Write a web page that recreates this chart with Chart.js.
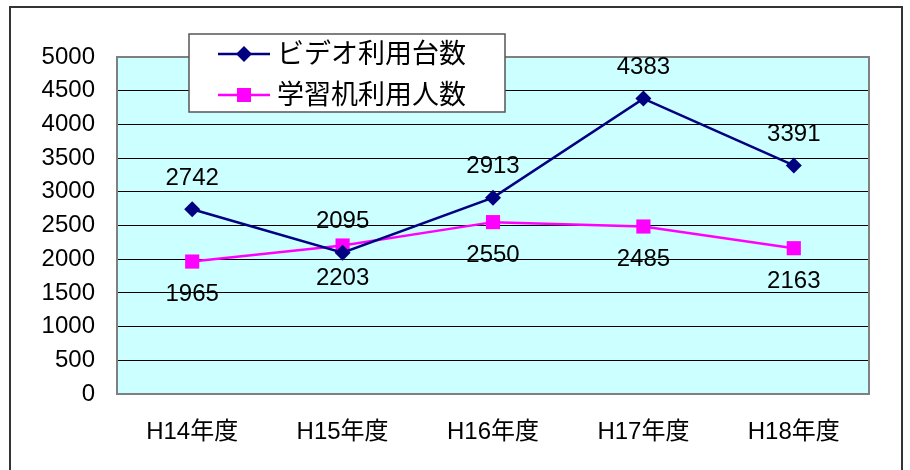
<!DOCTYPE html>
<html>
<head>
<meta charset="utf-8">
<script src="https://cdn.jsdelivr.net/npm/chart.js@4"></script>
<style>
    html, body { margin: 0; padding: 0; background: #ffffff; }
    #wrap { width: 910px; height: 470px; }
</style>
</head>
<body>
<div id="wrap"><canvas id="chart" width="910" height="470"></canvas></div>
<script>
const years = ["H14年度", "H15年度", "H16年度", "H17年度", "H18年度"];
const videoCounts = [2742, 2095, 2913, 4383, 3391];
const learnerCounts = [1965, 2203, 2550, 2485, 2163];
const seriesNames = ["ビデオ利用台数", "学習机利用人数"];

const FONT = "'Liberation Sans', 'Noto Sans CJK JP', sans-serif";

// background, plot frame, outer border, legend box, value labels
const decor = {
    id: "decor",
    beforeDraw(chart) {
        const c = chart.ctx, a = chart.chartArea;
        c.save();
        c.fillStyle = "#ffffff";
        c.fillRect(0, 0, chart.width, chart.height);
        c.fillStyle = "#ccffff";
        c.fillRect(a.left, a.top, a.right - a.left, a.bottom - a.top);
        c.strokeStyle = "#333333";
        c.lineWidth = 2;
        c.strokeRect(10, 7, 892, 480);
        c.restore();
    },
    afterDatasetsDraw(chart) {
        const c = chart.ctx, a = chart.chartArea;
        c.save();
        c.strokeStyle = "#808080";
        c.lineWidth = 2;
        c.strokeRect(a.left, a.top, a.right - a.left, a.bottom - a.top);

        // value labels: first series above, second below
        c.fillStyle = "#000000";
        c.font = "24px " + FONT;
        c.textAlign = "center";
        c.textBaseline = "middle";
        chart.data.datasets.forEach((ds, i) => {
            const meta = chart.getDatasetMeta(i);
            meta.data.forEach((pt, j) => {
                const dy = i === 0 ? -31 : 33;
                c.fillText(String(ds.data[j]), pt.x, pt.y + dy);
            });
        });

        // legend box
        const lx = 189, ly = 34, lw = 316, lh = 78;
        c.fillStyle = "#ffffff";
        c.fillRect(lx, ly, lw, lh);
        c.strokeStyle = "#555555";
        c.lineWidth = 1.5;
        c.strokeRect(lx, ly, lw, lh);
        chart.data.datasets.forEach((ds, i) => {
            const y = 54 + i * 41;
            c.strokeStyle = ds.borderColor;
            c.lineWidth = 2.5;
            c.beginPath();
            c.moveTo(218, y);
            c.lineTo(270, y);
            c.stroke();
            c.fillStyle = ds.borderColor;
            if (i === 0) {
                c.beginPath();
                c.moveTo(244, y - 8);
                c.lineTo(252, y);
                c.lineTo(244, y + 8);
                c.lineTo(236, y);
                c.closePath();
                c.fill();
            } else {
                c.fillRect(237, y - 7, 14, 14);
            }
            c.fillStyle = "#000000";
            c.font = "27px 'Noto Sans CJK JP', sans-serif";
            c.textAlign = "left";
            c.textBaseline = "middle";
            c.fillText(ds.label, 277, y - 1);
        });
        c.restore();
    }
};

const ctx = document.getElementById("chart");

const config = {
    type: "line",
    data: {
        labels: years,
        datasets: [{
            label: seriesNames[0],
            data: videoCounts,
            borderColor: "#000080",
            backgroundColor: "#000080",
            borderWidth: 2.5,
            pointStyle: "rectRot",
            pointRadius: 8,
            pointBorderWidth: 0,
            tension: 0
        }, {
            label: seriesNames[1],
            data: learnerCounts,
            borderColor: "#ff00ff",
            backgroundColor: "#ff00ff",
            borderWidth: 2.5,
            pointStyle: "rect",
            pointRadius: 10,
            pointBorderWidth: 0,
            tension: 0
        }]
    },
    options: {
        responsive: false,
        animation: false,
        layout: { padding: { left: 0, top: 57, right: 41, bottom: 0 } },
        plugins: {
            legend: { display: false },
            tooltip: { enabled: false }
        },
        scales: {
            x: {
                offset: true,
                grid: { display: false, drawTicks: false },
                border: { display: false },
                ticks: { color: "#000000", font: { family: FONT, size: 24 }, padding: 24, maxRotation: 0 },
                afterFit(scale) { scale.height = 76; }
            },
            y: {
                min: 0,
                max: 5000,
                ticks: {
                    stepSize: 500,
                    color: "#000000",
                    font: { family: FONT, size: 24 },
                    padding: 22,
                    callback: (v) => String(v)
                },
                grid: { color: "#000000", lineWidth: 1, drawTicks: false },
                border: { display: false },
                afterFit(scale) { scale.width = 117; }
            }
        }
    },
    plugins: [decor]
};

const chartLine = new Chart(ctx, config);
</script>
</body>
</html>
